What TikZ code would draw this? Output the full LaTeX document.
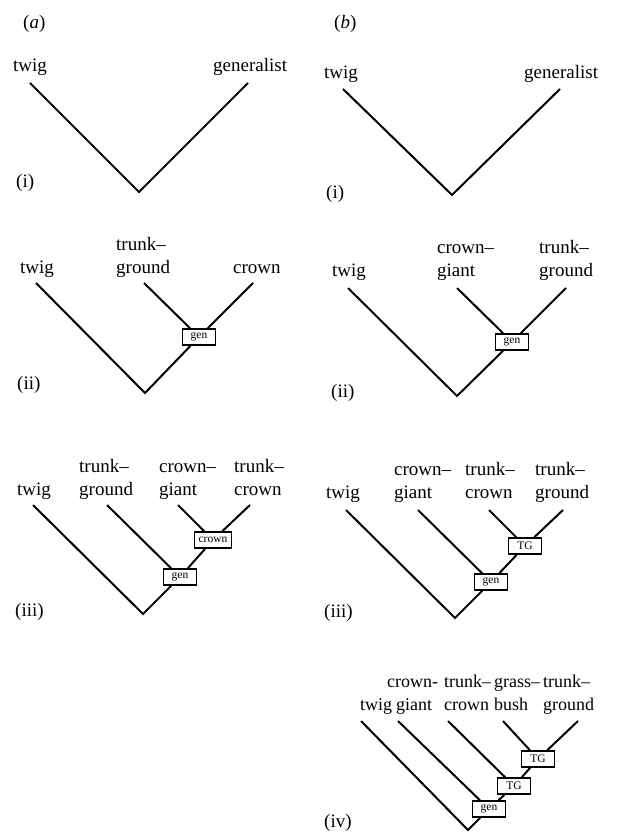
\documentclass[tikz,border=0pt]{standalone}
\usepackage{fontspec}
\setmainfont{Liberation Serif}
\begin{document}
\begin{tikzpicture}[x=1pt,y=-1pt,
  lbl/.style={inner sep=0pt, anchor=base west, font=\fontsize{19}{23}\selectfont},
  lblsm/.style={lbl, font=\fontsize{18}{22}\selectfont},
  branch/.style={line width=2pt, line join=miter},
  tag/.style={draw, line width=1.6pt, fill=white, inner xsep=4pt, inner ysep=2pt,
    minimum width=33pt, minimum height=16pt, font=\fontsize{11.5}{12}\selectfont}]
\useasboundingbox (0,0) rectangle (623,834);

% ---------- (a)(i)
\node[lbl] (pa) at (23,29) {(\textit{a})};
\node[lbl] (a1twl) at (13,72) {twig};
\node[lbl] (a1gel) at (213,72) {generalist};
\coordinate (a1tw) at (30,83);
\coordinate (a1ge) at (248,83);
\coordinate (a1ap) at (139,192);
\draw[branch] (a1tw) -- (a1ap) -- (a1ge);
\node[lbl] (a1n) at (16,188) {(i)};

% ---------- (b)(i)
\node[lbl] (pb) at (334,29) {(\textit{b})};
\node[lbl] (b1twl) at (324,79) {twig};
\node[lbl] (b1gel) at (524,79) {generalist};
\coordinate (b1tw) at (343,89);
\coordinate (b1ge) at (560,89);
\coordinate (b1ap) at (452,195);
\draw[branch] (b1tw) -- (b1ap) -- (b1ge);
\node[lbl] (b1n) at (326,199) {(i)};

% ---------- (a)(ii)
\node[lbl] (a2twl) at (20,273) {twig};
\node[lbl] (a2tgl1) at (116,250) {trunk–};
\node[lbl] (a2tgl2) at (116,273) {ground};
\node[lbl] (a2crl) at (233,273) {crown};
\coordinate (a2tw) at (36,283);
\coordinate (a2tg) at (144,283);
\coordinate (a2cr) at (253,283);
\coordinate (a2ap) at (145,393);
\node[tag] (a2gen) at (199,337) {gen};
\draw[branch] (a2tw) -- (a2ap) -- (a2gen);
\draw[branch] (a2tg) -- (a2gen);
\draw[branch] (a2cr) -- (a2gen);
\node[lbl] (a2n) at (17,389) {(ii)};

% ---------- (b)(ii)
\node[lbl] (b2twl) at (332,276) {twig};
\node[lbl] (b2cgl1) at (437,253) {crown–};
\node[lbl] (b2cgl2) at (437,276) {giant};
\node[lbl] (b2tgl1) at (539,253) {trunk–};
\node[lbl] (b2tgl2) at (539,276) {ground};
\coordinate (b2tw) at (348,288);
\coordinate (b2cg) at (457,288);
\coordinate (b2tg) at (566,288);
\coordinate (b2ap) at (457,396);
\node[tag] (b2gen) at (512,342) {gen};
\draw[branch] (b2tw) -- (b2ap) -- (b2gen);
\draw[branch] (b2cg) -- (b2gen);
\draw[branch] (b2tg) -- (b2gen);
\node[lbl] (b2n) at (331,397) {(ii)};

% ---------- (a)(iii)
\node[lbl] (a3twl) at (17,495) {twig};
\node[lbl] (a3tgl1) at (79,472) {trunk–};
\node[lbl] (a3tgl2) at (79,495) {ground};
\node[lbl] (a3cgl1) at (159,472) {crown–};
\node[lbl] (a3cgl2) at (159,495) {giant};
\node[lbl] (a3tcl1) at (234,472) {trunk–};
\node[lbl] (a3tcl2) at (234,495) {crown};
\coordinate (a3tw) at (33,505);
\coordinate (a3tg) at (107,505);
\coordinate (a3cg) at (178,505);
\coordinate (a3tc) at (250,505);
\coordinate (a3ap) at (143,614);
\node[tag] (a3cr) at (213,540) {crown};
\node[tag] (a3gen) at (180,577) {gen};
\draw[branch] (a3tw) -- (a3ap) -- (a3gen);
\draw[branch] (a3tg) -- (a3gen);
\draw[branch] (a3cr) -- (a3gen);
\draw[branch] (a3cg) -- (a3cr);
\draw[branch] (a3tc) -- (a3cr);
\node[lbl] (a3n) at (15,616) {(iii)};

% ---------- (b)(iii)
\node[lbl] (b3twl) at (326,498) {twig};
\node[lbl] (b3cgl1) at (394,475) {crown–};
\node[lbl] (b3cgl2) at (394,498) {giant};
\node[lbl] (b3tcl1) at (465,475) {trunk–};
\node[lbl] (b3tcl2) at (465,498) {crown};
\node[lbl] (b3tgl1) at (535,475) {trunk–};
\node[lbl] (b3tgl2) at (535,498) {ground};
\coordinate (b3tw) at (346,510);
\coordinate (b3cg) at (418,510);
\coordinate (b3tc) at (489,510);
\coordinate (b3tg) at (563,510);
\coordinate (b3ap) at (455,618);
\node[tag] (b3TG) at (525,546) {TG};
\node[tag] (b3gen) at (491,582) {gen};
\draw[branch] (b3tw) -- (b3ap) -- (b3gen);
\draw[branch] (b3cg) -- (b3gen);
\draw[branch] (b3TG) -- (b3gen);
\draw[branch] (b3tc) -- (b3TG);
\draw[branch] (b3tg) -- (b3TG);
\node[lbl] (b3n) at (324,617) {(iii)};

% ---------- (b)(iv)
\node[lblsm] (b4cgl1) at (387,687) {crown-};
\node[lblsm] (b4tcl1) at (444,687) {trunk–};
\node[lblsm] (b4gbl1) at (494,687) {grass–};
\node[lblsm] (b4tgl1) at (543,687) {trunk–};
\node[lblsm] (b4twl) at (360,710) {twig};
\node[lblsm] (b4cgl2) at (396,710) {giant};
\node[lblsm] (b4tcl2) at (444,710) {crown};
\node[lblsm] (b4gbl2) at (494,710) {bush};
\node[lblsm] (b4tgl2) at (543,710) {ground};
\coordinate (b4tw) at (361,721);
\coordinate (b4cg) at (398,721);
\coordinate (b4tc) at (448,721);
\coordinate (b4gb) at (503,721);
\coordinate (b4tg) at (578,721);
\coordinate (b4ap) at (468,830);
\node[tag] (b4TGa) at (538,759) {TG};
\node[tag] (b4TGb) at (514,786) {TG};
\node[tag] (b4gen) at (489,809) {gen};
\draw[branch] (b4tw) -- (b4ap) -- (b4gen);
\draw[branch] (b4cg) -- (b4gen);
\draw[branch] (b4TGb) -- (b4gen);
\draw[branch] (b4tc) -- (b4TGb);
\draw[branch] (b4TGa) -- (b4TGb);
\draw[branch] (b4gb) -- (b4TGa);
\draw[branch] (b4tg) -- (b4TGa);
\node[lbl] (b4n) at (324,827) {(iv)};
\end{tikzpicture}
\end{document}
